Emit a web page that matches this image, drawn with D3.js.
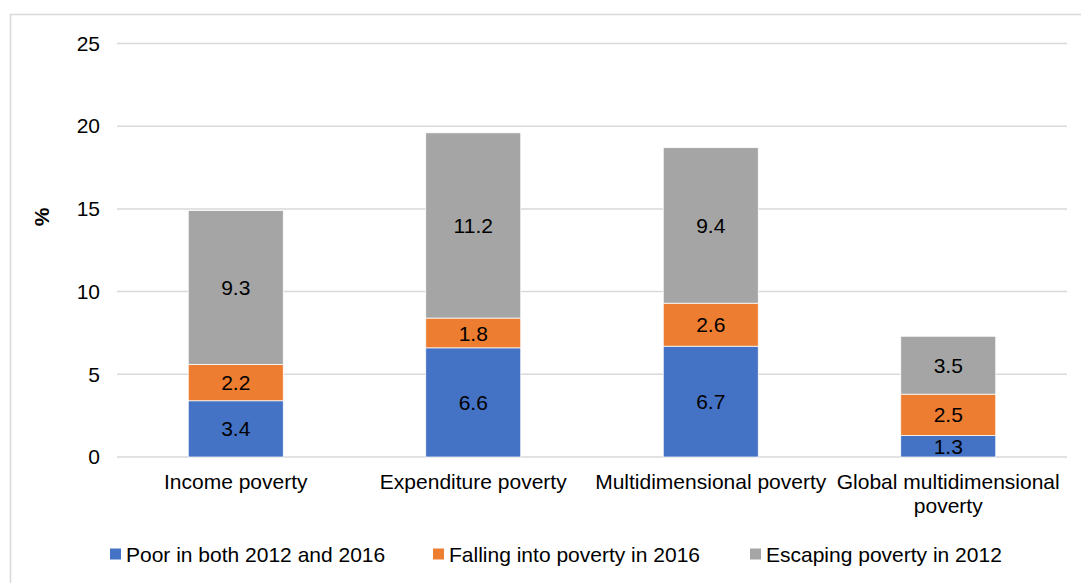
<!DOCTYPE html>
<html>
<head>
<meta charset="utf-8">
<script src="https://cdn.jsdelivr.net/npm/d3@7"></script>
<style>
  html, body { margin: 0; padding: 0; background: #fff; }
  svg { display: block; font-family: "Liberation Sans", Arial, sans-serif; }
</style>
</head>
<body>
<svg id="chart" width="1081" height="583"></svg>
<script>
const categories = ["Income poverty", "Expenditure poverty", "Multidimensional poverty", "Global multidimensional poverty"];
const seriesNames = ["Poor in both 2012 and 2016", "Falling into poverty in 2016", "Escaping poverty in 2012"];
const poorBoth = [3.4, 6.6, 6.7, 1.3];
const fallingInto = [2.2, 1.8, 2.6, 2.5];
const escaping = [9.3, 11.2, 9.4, 3.5];
const yTicks = [0, 5, 10, 15, 20, 25];
const colors = ["#4472C4", "#ED7D31", "#A5A5A5"];

const svg = d3.select("#chart");
const W = 1081, H = 583;
const plot = { left: 117, right: 1067, top: 43.5, bottom: 457 };

// chart border
svg.append("rect").attr("x", 10.5).attr("y", 14.5).attr("width", W + 10).attr("height", H + 10)
  .attr("fill", "#fff").attr("stroke", "#D9D9D9").attr("stroke-width", 1.5);

const x = d3.scaleBand().domain(categories).range([plot.left, plot.right]).paddingInner(0.6).paddingOuter(0.3);
const y = d3.scaleLinear().domain([0, 25]).range([plot.bottom, plot.top]);

// gridlines
svg.append("g").selectAll("line").data(yTicks).join("line")
  .attr("x1", plot.left).attr("x2", plot.right)
  .attr("y1", d => y(d)).attr("y2", d => y(d))
  .attr("stroke", "#D9D9D9").attr("stroke-width", 1.5);

// y axis labels
const yAxis = d3.axisLeft(y).tickValues(yTicks).tickSize(0).tickPadding(0).tickFormat(d3.format("d"));
const gy = svg.append("g").attr("transform", `translate(${plot.left - 17},0)`).call(yAxis);
gy.select(".domain").remove();
gy.selectAll("text").attr("font-size", 21).attr("fill", "#000").attr("font-family", "Liberation Sans, Arial, sans-serif");

// y axis title
svg.append("text").attr("transform", "translate(49,217) rotate(-90)")
  .attr("text-anchor", "middle").attr("font-size", 21).attr("font-weight", "bold").text("%");

// stack
const rows = categories.map((c, i) => ({ cat: c, s0: poorBoth[i], s1: fallingInto[i], s2: escaping[i] }));
const stack = d3.stack().keys(["s0", "s1", "s2"])(rows);

const gBars = svg.append("g");
stack.forEach((layer, li) => {
  const g = gBars.append("g");
  g.selectAll("rect").data(layer).join("rect")
    .attr("x", d => x(d.data.cat))
    .attr("width", x.bandwidth())
    .attr("y", d => y(d[1]))
    .attr("height", d => y(d[0]) - y(d[1]))
    .attr("fill", colors[li])
    .attr("stroke", "#fff").attr("stroke-width", 0.75);
  g.selectAll("text").data(layer).join("text")
    .attr("x", d => x(d.data.cat) + x.bandwidth() / 2)
    .attr("y", d => (y(d[0]) + y(d[1])) / 2)
    .attr("dy", "0.36em")
    .attr("text-anchor", "middle").attr("font-size", 21).attr("fill", "#000")
    .text(d => d3.format(".1f")(d[1] - d[0]));
});

// x category labels
const xLabels = svg.append("g");
categories.forEach(c => {
  const cx = x(c) + x.bandwidth() / 2;
  const lines = c === "Global multidimensional poverty" ? ["Global multidimensional", "poverty"] : [c];
  const t = xLabels.append("text").attr("text-anchor", "middle").attr("font-size", 21).attr("fill", "#000");
  lines.forEach((ln, k) => {
    t.append("tspan").attr("x", cx).attr("y", 489 + k * 24).text(ln);
  });
});

// legend
const legendX = [110, 433, 750];
const lg = svg.append("g");
seriesNames.forEach((n, i) => {
  lg.append("rect").attr("x", legendX[i]).attr("y", 548.5).attr("width", 11).attr("height", 11).attr("fill", colors[i]);
  lg.append("text").attr("x", legendX[i] + 16).attr("y", 561.5).attr("font-size", 21).attr("fill", "#000").text(n);
});
</script>
</body>
</html>
